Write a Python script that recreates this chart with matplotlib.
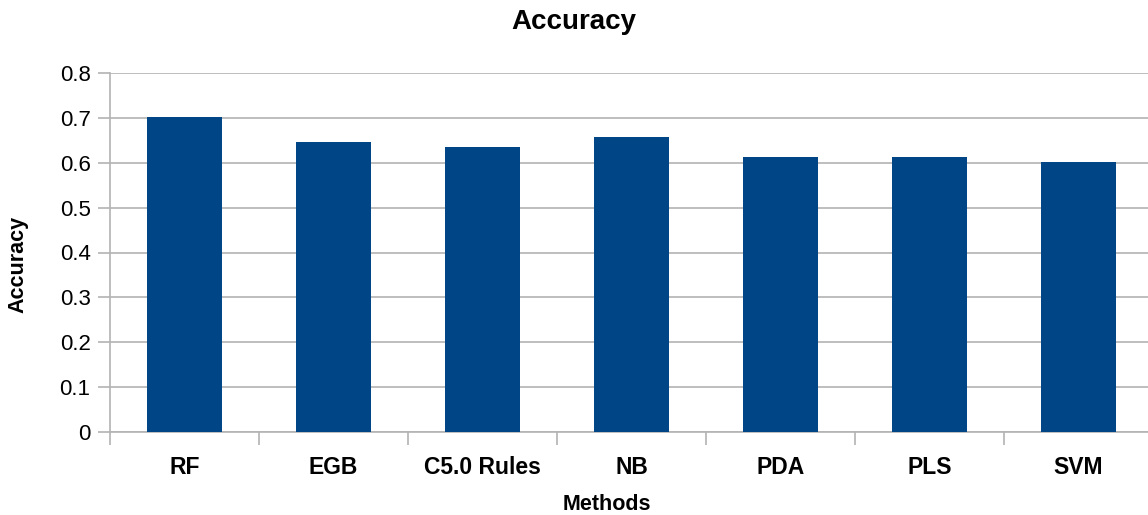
import numpy as np
import matplotlib.pyplot as plt
from matplotlib.ticker import FixedLocator

plt.rcParams['font.family'] = ['Liberation Sans', 'DejaVu Sans']

methods = ['RF', 'EGB', 'C5.0 Rules', 'NB', 'PDA', 'PLS', 'SVM']
accuracy = [0.703, 0.647, 0.635, 0.658, 0.613, 0.613, 0.602]
yticks = [0, 0.1, 0.2, 0.3, 0.4, 0.5, 0.6, 0.7, 0.8]

grey = '#b3b3b3'

fig = plt.figure(figsize=(11.48, 5.15), dpi=100)
ax = fig.add_axes([110 / 1148, 83 / 515, 1043 / 1148, 359 / 515])

x = np.arange(len(methods))
ax.bar(x, accuracy, width=0.5, color='#004586', zorder=3)

ax.set_xlim(-0.5, len(methods) - 0.5)
ax.set_ylim(0, 0.8)
ax.set_yticks(yticks)
ax.set_yticklabels([f'{v:g}' for v in yticks])
ax.yaxis.grid(True, color=grey, linewidth=1.2, zorder=0)

ax.set_xticks(x)
ax.set_xticklabels(methods, fontweight='bold')
ax.xaxis.set_minor_locator(FixedLocator(np.arange(-0.5, len(methods), 1.0)))
ax.tick_params(axis='x', which='major', length=0, pad=17, labelsize=16.5)
ax.tick_params(axis='x', which='minor', length=9, color=grey, width=1.2)
ax.tick_params(axis='y', length=9, color=grey, width=1.2, pad=5, labelsize=16)

for side in ['top', 'right']:
    ax.spines[side].set_visible(False)
for side in ['left', 'bottom']:
    ax.spines[side].set_color(grey)
    ax.spines[side].set_linewidth(1.2)

# axis titles placed in figure pixels, as in the reference
fig.text(607 / 1148, 1 - 505 / 515, 'Methods', fontsize=15.5, fontweight='bold',
         ha='center', va='center')
fig.text(18 / 1148, 1 - 264 / 515, 'Accuracy', fontsize=15.5, fontweight='bold',
         ha='center', va='center', rotation=90)
fig.text(574 / 1148, 1 - 22 / 515, 'Accuracy', fontsize=20, fontweight='bold',
         ha='center', va='center')

fig.savefig('out.png', dpi=100)
